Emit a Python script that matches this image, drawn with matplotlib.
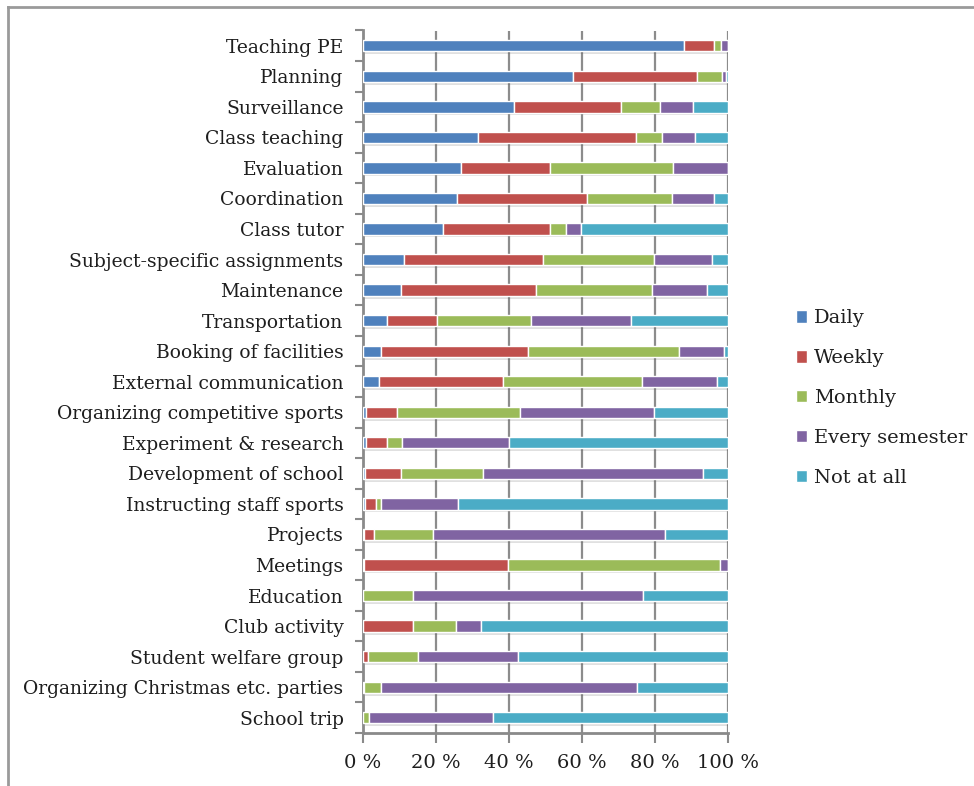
import matplotlib
matplotlib.use("Agg")
import matplotlib.pyplot as plt
import matplotlib.patheffects as pe
from matplotlib.lines import Line2D
from matplotlib.patches import Patch
import numpy as np

categories = [
    "Teaching PE", "Planning", "Surveillance", "Class teaching", "Evaluation",
    "Coordination", "Class tutor", "Subject-specific assignments", "Maintenance",
    "Transportation", "Booking of facilities", "External communication",
    "Organizing competitive sports", "Experiment & research",
    "Development of school", "Instructing staff sports", "Projects", "Meetings",
    "Education", "Club activity", "Student welfare group",
    "Organizing Christmas etc. parties", "School trip",
]

series_names = ["Daily", "Weekly", "Monthly", "Every semester", "Not at all"]

daily = [88.0, 57.5, 41.3, 31.6, 26.9, 25.7, 21.9, 11.2, 10.4, 6.5, 4.9, 4.5,
         0.8, 0.8, 0.5, 0.5, 0.3, 0.4, 0.0, 0.0, 0.0, 0.0, 0.0]
weekly = [8.1, 34.0, 29.5, 43.1, 24.2, 35.6, 29.2, 38.1, 37.0, 13.9, 40.3, 33.9,
          8.6, 5.7, 9.8, 3.0, 2.8, 39.3, 0.0, 13.6, 1.3, 0.4, 0.0]
monthly = [2.1, 6.8, 10.5, 7.3, 33.9, 23.3, 4.5, 30.3, 31.7, 25.5, 41.5, 38.0,
           33.7, 4.1, 22.6, 1.5, 16.2, 58.1, 13.6, 11.8, 13.9, 4.4, 1.6]
semester = [1.8, 1.2, 9.1, 9.0, 15.0, 11.5, 4.2, 16.0, 15.2, 27.4, 12.3, 20.7,
            36.7, 29.5, 60.2, 21.1, 63.5, 2.2, 63.0, 7.0, 27.4, 70.2, 34.0]
not_at_all = [0.0, 0.5, 9.6, 9.0, 0.0, 3.9, 40.2, 4.4, 5.7, 26.7, 1.0, 2.9,
              20.2, 59.9, 6.9, 73.9, 17.2, 0.0, 23.4, 67.6, 57.4, 24.9, 64.4]

x_ticks = [0, 20, 40, 60, 80, 100]
x_tick_labels = ["0 %", "20 %", "40 %", "60 %", "80 %", "100 %"]

colors = ["#4f81bd", "#c0504d", "#9bbb59", "#8064a2", "#4bacc6"]

plt.rcParams["font.family"] = ["DejaVu Serif"]

W, H = 974, 786
fig = plt.figure(figsize=(W / 100, H / 100), dpi=100)

# outer frame (top and left edges visible)
fig.add_artist(Line2D([8 / W, 8 / W], [0, 1 - 7 / H], transform=fig.transFigure,
                      color="#9a9a9a", lw=2))
fig.add_artist(Line2D([8 / W, 1], [1 - 7 / H, 1 - 7 / H], transform=fig.transFigure,
                      color="#9a9a9a", lw=2))

left, right = 363 / W, 728 / W
top, bottom = 1 - 30.5 / H, 1 - 733 / H
ax = fig.add_axes([left, bottom, right - left, top - bottom])

n = len(categories)
y = np.arange(n)
series = [daily, weekly, monthly, semester, not_at_all]
shadow = [pe.SimplePatchShadow(offset=(1.5, -2), alpha=0.18, shadow_rgbFace="#555555"),
          pe.Normal()]

cum = np.zeros(n)
for vals, col, name in zip(series, colors, series_names):
    vals = np.array(vals, dtype=float)
    bars = ax.barh(y, vals, left=cum, height=0.37, color=col, edgecolor="white",
                   linewidth=1.0, label=name, zorder=3)
    for b in bars:
        b.set_path_effects(shadow)
    cum += vals

ax.set_xlim(0, 100)
ax.set_ylim(n - 0.5, -0.5)
ax.set_xticks(x_ticks)
ax.set_xticklabels(x_tick_labels, fontsize=14, color="#1e1e1e")
ax.set_yticks(y)
ax.set_yticklabels(categories, fontsize=13.5, color="#1e1e1e")
ax.set_yticks(np.arange(-0.5, n, 1.0), minor=True)

ax.tick_params(axis="y", which="major", length=0, pad=14)
ax.tick_params(axis="y", which="minor", length=6, width=1.5, color="#8a8a8a",
               direction="out")
ax.tick_params(axis="x", length=7, width=1.5, color="#8a8a8a", direction="out",
               pad=8)

for xv in x_ticks[1:]:
    ax.axvline(xv, color="#8c8c8c", lw=1.6, zorder=1)

for s in ["top", "right"]:
    ax.spines[s].set_visible(False)
for s in ["left", "bottom"]:
    ax.spines[s].set_color("#8a8a8a")
    ax.spines[s].set_linewidth(2)

handles = [Patch(facecolor=c, edgecolor="white", label=nm)
           for c, nm in zip(colors, series_names)]
fig.legend(handles=handles, loc="center left", bbox_to_anchor=(778 / W, 1 - 398 / H),
           frameon=False, fontsize=14, handlelength=0.6, handleheight=0.6,
           handletextpad=0.35, labelspacing=1.12, labelcolor="#1e1e1e")

fig.savefig("out.png", dpi=100, facecolor="white")
